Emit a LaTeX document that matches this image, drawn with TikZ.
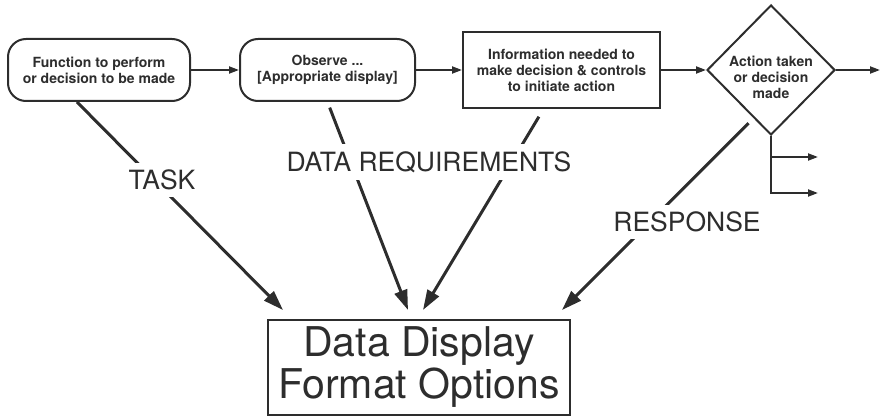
\documentclass[tikz,border=0pt]{standalone}
\usepackage{fontspec}
\setmainfont{TeX Gyre Heros}
\usetikzlibrary{shapes.geometric, arrows.meta}
\definecolor{inkgray}{RGB}{45,45,45}

\begin{document}
\begin{tikzpicture}[
    x=1pt, y=-1pt,
    color=inkgray,
    box/.style={rectangle, rounded corners=18pt, draw, line width=2pt,
                minimum height=62pt, inner sep=0pt,
                align=center, font=\bfseries\fontsize{14}{16}\selectfont},
    infobox/.style={rectangle, draw, line width=2pt,
                minimum width=197pt, minimum height=76pt, inner sep=0pt,
                align=center, font=\bfseries\fontsize{14}{16}\selectfont},
    decision/.style={diamond, draw, line width=2pt,
                minimum width=128pt, minimum height=130pt, inner sep=0pt},
    dtext/.style={align=center, font=\bfseries\fontsize{14}{16}\selectfont},
    lbl/.style={fill=white, inner sep=7pt, font=\fontsize{26.5}{30}\selectfont},
    arr/.style={-{Triangle[length=20pt,width=13pt]}, line width=3pt},
    flow/.style={-{Triangle[length=10pt,width=7pt]}, line width=2pt},
  ]
  \useasboundingbox (0,0) rectangle (880,417);

  % ── top row ──────────────────────────────────────
  \node[box, minimum width=182pt] (fn)  at (99,70)
        {Function to perform\\or decision to be made};
  \node[box, minimum width=175pt] (obs) at (327.5,70)
        {Observe ...\\{}[Appropriate display]};
  \node[infobox] (info) at (561.5,70)
        {Information needed to\\make decision \& controls\\to initiate action};
  \node[decision] (act) at (771,70) {};
  \node[dtext] (acttxt) at ([yshift=-7pt]act.center)
        {Action taken\\or decision\\made};

  \coordinate (exit)   at (880,70);
  \coordinate (br1)    at (771,157);
  \coordinate (br1end) at (818,157);
  \coordinate (br2end) at (818,193);

  \draw[flow] (fn.east)  -- (obs.west);
  \draw[flow] (obs.east) -- (info.west);
  \draw[flow] (info.east) -- (act.west);
  \draw[flow] (act.east) -- (exit);
  \draw[flow] (act.south) |- (br2end);
  \draw[flow] (br1) -- (br1end);

  % ── bottom box ───────────────────────────────────
  \node[rectangle, draw, line width=2pt, minimum width=302pt,
        minimum height=95pt, inner sep=0pt, align=center,
        font=\fontsize{41}{42}\selectfont] (ddf) at (419,367)
        {Data Display\\Format Options};

  \coordinate (tipT) at (283,310);
  \coordinate (tipA) at (408,310);
  \coordinate (tipB) at (423,310);
  \coordinate (tipR) at (562,310);

  \draw[arr] ([xshift=-22pt]fn.south) -- (tipT);
  \draw[arr, shorten <=6pt] (obs.south) -- (tipA);
  \draw[arr, shorten <=9pt] ([xshift=-18pt]info.south) -- (tipB);
  \draw[arr, shorten <=7pt] (act.250) -- (tipR);

  % ── labels over the lines ────────────────────────
  \node[lbl] (task) at (162,180) {TASK};
  \node[lbl] (datareq) at (429,162) {DATA REQUIREMENTS};
  \node[lbl] (resp) at (687,222) {RESPONSE};

\end{tikzpicture}
\end{document}
